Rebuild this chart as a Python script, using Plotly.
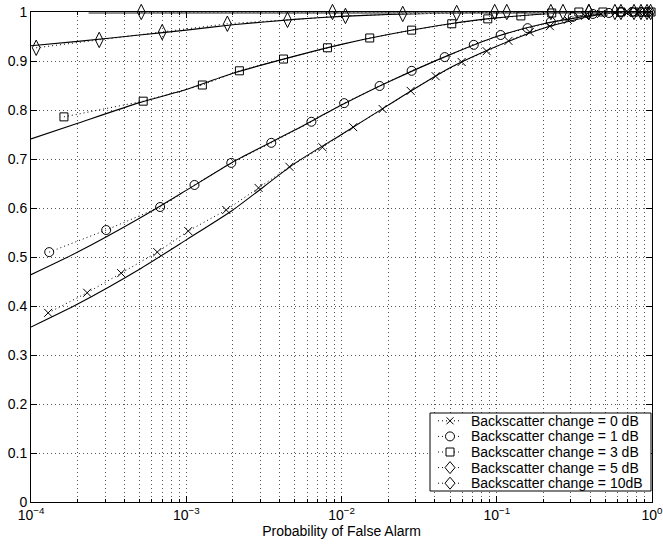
import plotly.graph_objects as go

# ---------------- data ----------------
# simulated points (markers joined by dotted lines)
pfa_0db = [1.29e-4, 2.30e-4, 3.81e-4, 6.51e-4, 1.03e-3, 1.81e-3, 2.92e-3, 4.62e-3, 7.54e-3,
           1.19e-2, 1.84e-2, 2.79e-2, 4.04e-2, 5.94e-2, 8.61e-2, 0.119, 0.163, 0.220, 0.287,
           0.370, 0.469, 0.577, 0.700, 0.824, 0.957]
pd_0db = [0.386, 0.427, 0.467, 0.510, 0.553, 0.596, 0.641, 0.684, 0.724,
          0.765, 0.802, 0.839, 0.869, 0.898, 0.920, 0.941, 0.959, 0.971, 0.984,
          0.992, 0.996, 0.998, 1.0, 1.0, 1.0]

pfa_1db = [1.31e-4, 3.05e-4, 6.79e-4, 1.13e-3, 1.95e-3, 3.53e-3, 6.40e-3, 1.04e-2, 1.76e-2,
           2.83e-2, 4.62e-2, 7.11e-2, 0.106, 0.158, 0.223, 0.309, 0.416, 0.528, 0.631,
           0.743, 0.849, 0.942]
pd_1db = [0.510, 0.555, 0.602, 0.647, 0.692, 0.733, 0.776, 0.814, 0.849,
          0.880, 0.908, 0.933, 0.953, 0.967, 0.980, 0.990, 0.996, 0.998, 1.0,
          1.0, 1.0, 1.0]

pfa_3db = [1.63e-4, 5.28e-4, 1.27e-3, 2.20e-3, 4.23e-3, 8.12e-3, 1.52e-2, 2.83e-2, 5.13e-2,
           8.75e-2, 0.143, 0.226, 0.338, 0.483, 0.631, 0.766, 0.888, 0.986]
pd_3db = [0.786, 0.818, 0.851, 0.880, 0.904, 0.927, 0.947, 0.963, 0.976,
          0.986, 0.992, 0.998, 1.0, 1.0, 1.0, 1.0, 1.0, 1.0]

pfa_5db = [1.08e-4, 2.75e-4, 7.00e-4, 1.84e-3, 4.49e-3, 1.06e-2, 2.48e-2, 5.52e-2, 0.116,
           0.223, 0.392, 0.577, 0.766, 0.929]
pd_5db = [0.927, 0.943, 0.959, 0.976, 0.984, 0.992, 0.996, 0.998, 1.0,
          1.0, 1.0, 1.0, 1.0, 1.0]

pfa_10db = [5.13e-4, 8.75e-3, 9.70e-2, 0.267, 0.392, 0.631, 0.849, 0.980]
pd_10db = [1.0, 1.0, 1.0, 1.0, 1.0, 1.0, 1.0, 1.0]

# theoretical curves (solid lines)
pfa_theory = [1e-4, 2e-4, 5e-4, 1e-3, 2e-3, 5e-3, 1e-2, 2e-2, 5e-2, 0.1, 0.2, 0.5, 1.0]
pd_theory_0db = [0.357, 0.404, 0.475, 0.535, 0.596, 0.691, 0.750, 0.810, 0.886, 0.930, 0.967, 0.997, 1.0]
pd_theory_1db = [0.464, 0.510, 0.579, 0.636, 0.694, 0.759, 0.810, 0.857, 0.913, 0.950, 0.976, 0.997, 1.0]
pd_theory_3db = [0.741, 0.773, 0.815, 0.842, 0.875, 0.910, 0.934, 0.954, 0.976, 0.988, 0.996, 1.0, 1.0]
pd_theory_5db = [0.931, 0.940, 0.953, 0.963, 0.974, 0.985, 0.991, 0.995, 0.998, 0.999, 1.0, 1.0, 1.0]
pfa_theory_10db = [2.35e-4, 1.0]
pd_theory_10db = [0.9985, 0.9985]

labels = ["Backscatter change = 0 dB", "Backscatter change = 1 dB",
          "Backscatter change = 3 dB", "Backscatter change = 5 dB",
          "Backscatter change = 10dB"]

x_tickvals = [1e-4, 1e-3, 1e-2, 1e-1, 1e0]
x_ticktext = ["10<sup>−4</sup>", "10<sup>−3</sup>", "10<sup>−2</sup>", "10<sup>−1</sup>", "10<sup>0</sup>"]
y_tickvals = [0, 0.1, 0.2, 0.3, 0.4, 0.5, 0.6, 0.7, 0.8, 0.9, 1.0]
y_ticktext = ["0", "0.1", "0.2", "0.3", "0.4", "0.5", "0.6", "0.7", "0.8", "0.9", "1"]
x_title = "Probability of False Alarm"

# ---------------- figure ----------------
FONT = "Liberation Sans, Arial, Helvetica, sans-serif"
DOT = "1px,3px"
W, H = 663, 546
ML, MR, MT, MB = 31, 11, 12, 44
PW, PH = W - ML - MR, H - MT - MB

def px_x(p):  # page pixel -> paper x
    return (p - ML) / PW

def px_y(p):  # page pixel -> paper y
    return (H - MB - p) / PH

fig = go.Figure()

# theory curves first (beneath markers)
for yy in [pd_theory_0db, pd_theory_1db, pd_theory_3db, pd_theory_5db]:
    fig.add_trace(go.Scatter(x=pfa_theory, y=yy, mode="lines", showlegend=False,
                             line=dict(color="black", width=1.1, shape="spline", smoothing=0.6),
                             hoverinfo="skip"))
fig.add_trace(go.Scatter(x=pfa_theory_10db, y=pd_theory_10db, mode="lines", showlegend=False,
                         line=dict(color="#8c8c8c", width=2.5), hoverinfo="skip", cliponaxis=False))

sim = [(pfa_0db, pd_0db, "x-thin-open", 8),
       (pfa_1db, pd_1db, "circle-open", 9),
       (pfa_3db, pd_3db, "square-open", 8),
       (pfa_5db, pd_5db, "diamond-tall-open", 11),
       (pfa_10db, pd_10db, "diamond-tall-open", 11)]
for (xx, yy, sym, sz), name in zip(sim, labels):
    fig.add_trace(go.Scatter(x=xx, y=yy, mode="lines+markers", name=name, cliponaxis=False,
                             showlegend=False,
                             line=dict(color="black", width=1, dash=DOT),
                             marker=dict(symbol=sym, size=sz, color="black",
                                         line=dict(color="black", width=1))))

# ---------------- legend (MATLAB style box, drawn as layout items) ----------------
LEG_L, LEG_R, LEG_T, LEG_B = 430, 651, 413, 491
row_h = (LEG_B - LEG_T) / len(labels)
shapes = [dict(type="rect", xref="paper", yref="paper", layer="above",
               x0=px_x(LEG_L), x1=px_x(LEG_R), y0=px_y(LEG_B), y1=px_y(LEG_T),
               line=dict(color="black", width=1), fillcolor="white")]
annotations = []
sym_x = px_x(450)
for i, name in enumerate(labels):
    ry = px_y(LEG_T + row_h * (i + 0.5))
    # dotted key line
    shapes.append(dict(type="line", xref="paper", yref="paper", layer="above",
                       x0=px_x(438), x1=px_x(462), y0=ry, y1=ry,
                       line=dict(color="black", width=1, dash=DOT)))
    common = dict(xref="paper", yref="paper", layer="above", xsizemode="pixel",
                  ysizemode="pixel", xanchor=sym_x, yanchor=ry,
                  line=dict(color="black", width=1), fillcolor="white")
    if i == 0:
        shapes.append(dict(type="line", x0=-3.5, x1=3.5, y0=-3.5, y1=3.5, **common))
        shapes.append(dict(type="line", x0=-3.5, x1=3.5, y0=3.5, y1=-3.5, **common))
    elif i == 1:
        shapes.append(dict(type="circle", x0=-4.5, x1=4.5, y0=-4.5, y1=4.5, **common))
    elif i == 2:
        shapes.append(dict(type="rect", x0=-4, x1=4, y0=-4, y1=4, **common))
    else:
        shapes.append(dict(type="path", path="M -5 0 L 0 6 L 5 0 L 0 -6 Z", **common))
    annotations.append(dict(xref="paper", yref="paper", x=px_x(469), y=ry,
                            xanchor="left", yanchor="middle", showarrow=False,
                            text=name, font=dict(family=FONT, size=14, color="black")))

axis_common = dict(showline=True, linecolor="black", linewidth=1, mirror="ticks",
                   ticks="inside", tickcolor="black", ticklen=6, automargin=False,
                   showgrid=True, gridcolor="#555", griddash=DOT, gridwidth=1,
                   zeroline=False, ticklabeloverflow="allow",
                   tickfont=dict(family=FONT, size=14, color="black"))

fig.update_xaxes(type="log", range=[-4, 0], tickvals=x_tickvals, ticktext=x_ticktext,
                 minor=dict(dtick="D1", ticks="inside", ticklen=3, tickcolor="black",
                            showgrid=True, gridcolor="#555", griddash=DOT, gridwidth=1),
                 title=dict(text=x_title, font=dict(family=FONT, size=14, color="black"),
                            standoff=0),
                 **axis_common)
fig.update_yaxes(range=[0, 1], tickvals=y_tickvals, ticktext=y_ticktext, **axis_common)

fig.update_layout(
    width=W, height=H,
    margin=dict(l=ML, r=MR, t=MT, b=MB, autoexpand=False),
    paper_bgcolor="white", plot_bgcolor="white",
    font=dict(family=FONT, size=14, color="black"),
    showlegend=False,
    shapes=shapes,
    annotations=annotations,
)

fig.write_html("out.html", config={"displayModeBar": False},
               post_script="document.body.style.margin='0';")
